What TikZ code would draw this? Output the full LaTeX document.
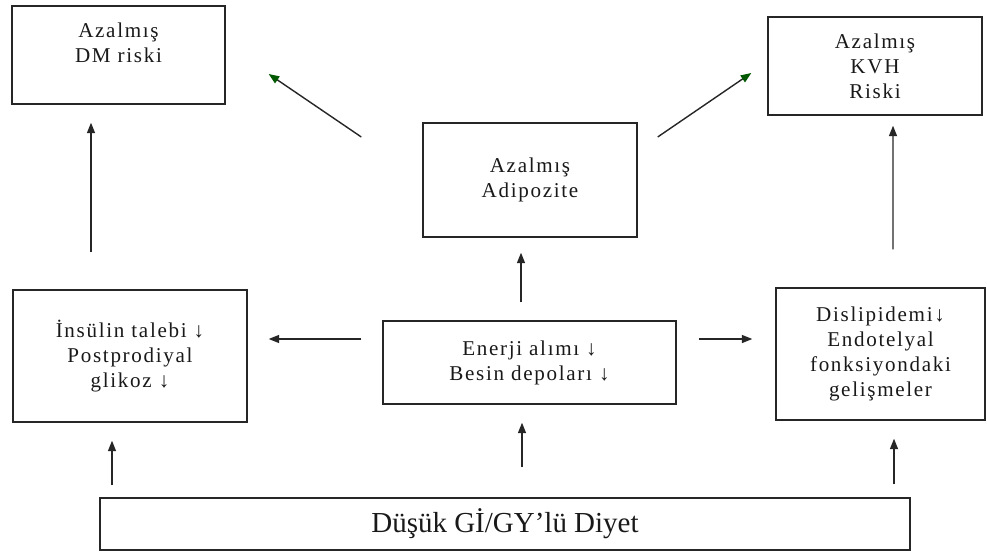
\documentclass[tikz,border=0pt]{standalone}
\usepackage{fontspec}
\setmainfont{Liberation Serif}
\newfontfamily\boxfont[LetterSpace=8]{Liberation Serif}
\usetikzlibrary{arrows.meta,calc}

\tikzset{
  kutu/.style={draw=black!85, line width=0.8pt, align=center, inner sep=0pt,
    font=\boxfont\fontsize{12}{14.2}\selectfont, text=black!90},
  ok/.style={draw=black!85, line width=0.8pt, -{Triangle[length=6pt,width=4.6pt]}},
  yesilok/.style={draw=black!85, line width=0.8pt,
    -{Triangle[length=6pt,width=4.6pt,color=green!35!black]}}
}

\begin{document}
\begin{tikzpicture}[x=0.02cm, y=-0.02cm]
    \useasboundingbox (0,0) rectangle (987,554);

    % ust kutular
    \node[kutu, minimum width=4.26cm, minimum height=1.96cm] (dm) at (118.5,55)
        {Azalmış\\DM riski\\\mbox{}};
    \node[kutu, minimum width=4.28cm, minimum height=1.96cm] (kvh) at (875,66)
        {Azalmış\\KVH\\Riski};
    \node[kutu, minimum width=4.28cm, minimum height=2.28cm] (adipo) at (530,180)
        {Azalmış\\Adipozite};

    % orta kutular
    \node[kutu, minimum width=4.68cm, minimum height=2.64cm] (ins) at (130,356)
        {İnsülin talebi ↓\\Postprodiyal\\glikoz ↓};
    \node[kutu, minimum width=5.86cm, minimum height=1.66cm] (enerji) at (529.5,362.5)
        {Enerji alımı ↓\\Besin depoları ↓};
    \node[kutu, minimum width=4.18cm, minimum height=2.64cm] (disl) at (880.5,354)
        {Dislipidemi↓\\Endotelyal\\fonksiyondaki\\gelişmeler};

    % alt kutu
    \node[kutu, font=\fontsize{16.5}{19}\selectfont, minimum width=16.2cm,
        minimum height=1.04cm] (diyet) at (505,524) {Düşük Gİ/GY’lü Diyet};

    % diyetten yukari
    \draw[ok] ($(diyet.north -| ins.south)+(-18,-12)$) -- ($(ins.south)+(-18,18)$);
    \draw[ok] ($(diyet.north -| enerji.south)+(-7.5,-30)$) -- ($(enerji.south)+(-7.5,18)$);
    \draw[ok] ($(diyet.north -| disl.south)+(13.5,-13)$) -- ($(disl.south)+(13.5,18)$);

    % enerjiden yanlara ve yukari
    \draw[ok] ($(enerji.west)+(-21,-23.5)$) -- ($(ins.east |- enerji.west)+(21,-23.5)$);
    \draw[ok] ($(enerji.east)+(22,-23.5)$) -- ($(disl.west |- enerji.east)+(-23,-23.5)$);
    \draw[ok] ($(enerji.north)+(-8.5,-18)$) -- ($(adipo.south)+(-9,15)$);

    % risklere
    \draw[ok] ($(ins.north)+(-39,-37)$) -- ($(dm.south)+(-27.5,18)$);
    \draw[ok] ($(disl.north)+(12.5,-38)$) -- ($(kvh.south)+(18,10)$);
    \draw[yesilok] ($(adipo.west)+(-61,-43)$) -- ($(dm.east)+(43,19)$);
    \draw[yesilok] ($(adipo.east)+(20,-43)$) -- ($(kvh.west)+(-16,7)$);
\end{tikzpicture}
\end{document}
